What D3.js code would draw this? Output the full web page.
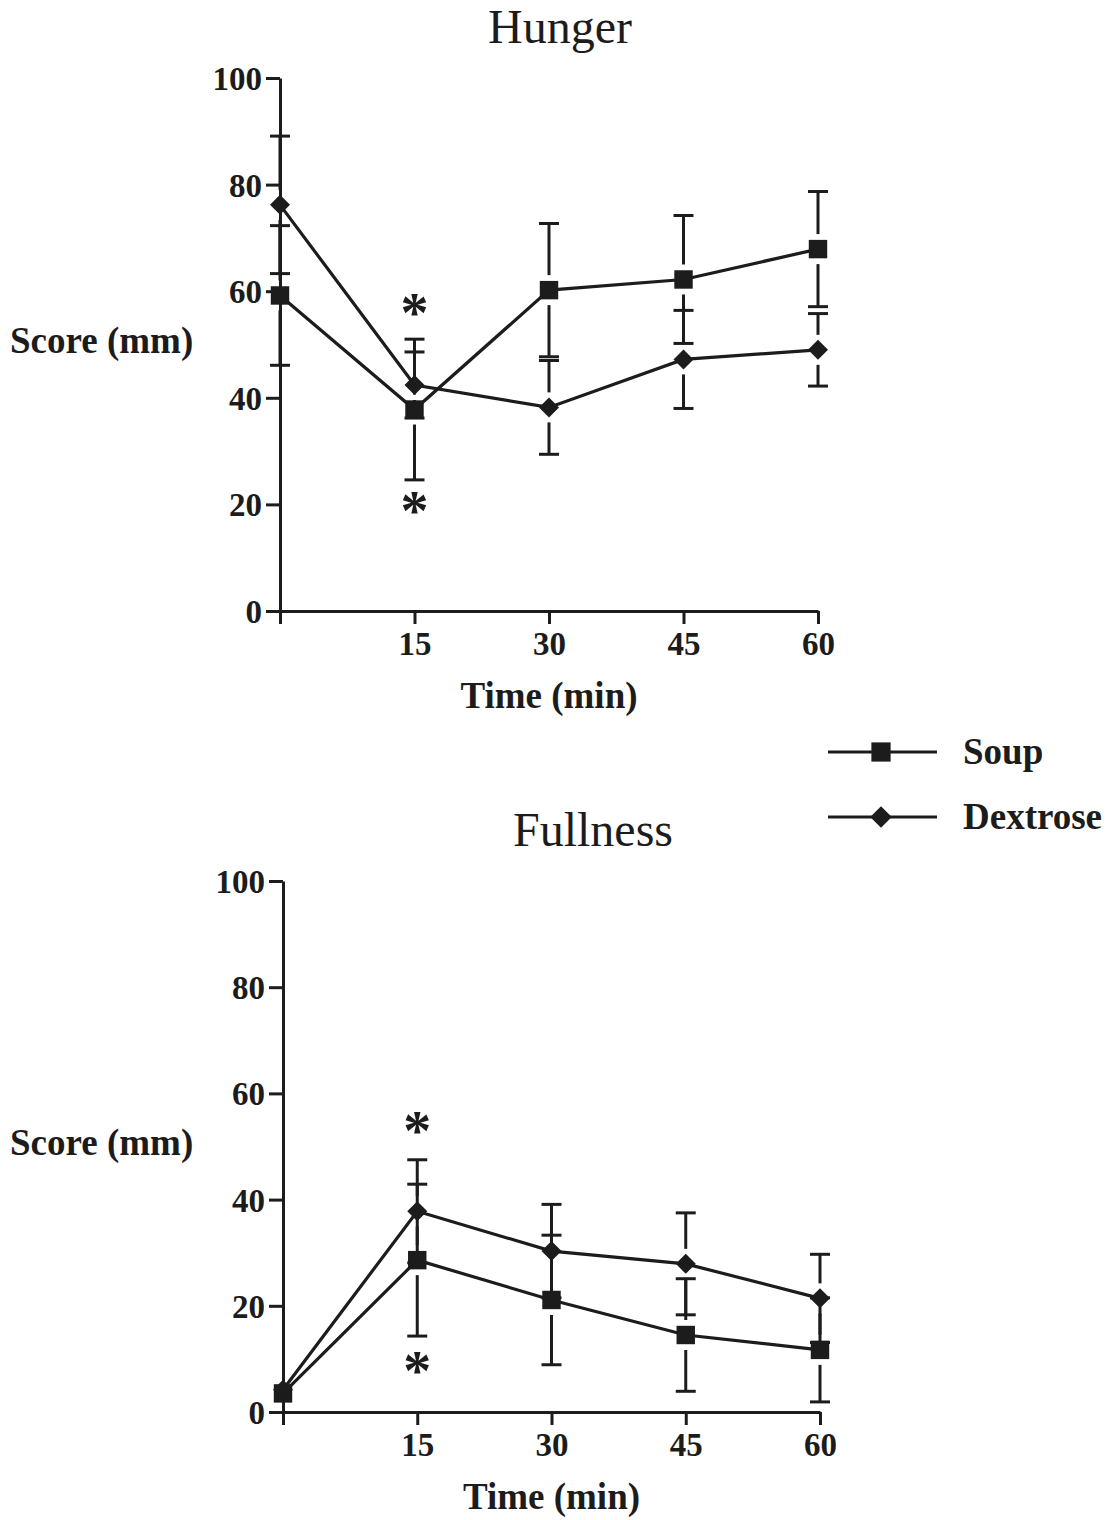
<!DOCTYPE html>
<html>
<head>
<meta charset="utf-8">
<script src="https://cdn.jsdelivr.net/npm/d3@7"></script>
<style>
  body { margin: 0; background: #fff; }
  svg text { font-family: "Liberation Serif", "Times New Roman", serif; fill: #1c1c1c; }
</style>
</head>
<body>
<div id="chart"></div>
<script>
/* -----------------    DATA     ------------------ */
const times = [0, 15, 30, 45, 60];
const xTickValues = [0, 15, 30, 45, 60];
const yTickValues = [0, 20, 40, 60, 80, 100];
const seriesNames = ['Soup', 'Dextrose'];

// Hunger (mean and SEM)
const hungerSoup = [59.2, 37.8, 60.2, 62.2, 67.9];
const hungerSoupErr = [13.1, 13.2, 12.5, 12.0, 10.8];
const hungerDex = [76.2, 42.4, 38.2, 47.2, 49.0];
const hungerDexErr = [12.9, 6.2, 8.8, 9.2, 6.8];
const hungerStars = [[15, 57.4], [15, 20.3]];

// Fullness (mean and SEM)
const fullSoup = [3.5, 28.6, 21.1, 14.5, 11.7];
const fullSoupErr = [1.2, 14.3, 12.2, 10.6, 9.8];
const fullDex = [4.2, 37.8, 30.3, 27.9, 21.4];
const fullDexErr = [1.2, 9.7, 8.8, 9.6, 8.3];
const fullStars = [[15, 54.4], [15, 9.2]];

/* -----------------    SETTINGS     ------------------ */
const ink = '#1c1c1c';
const width = 1111;
const height = 1520;

const svg = d3.select('#chart')
  .append('svg')
  .attr('width', width)
  .attr('height', height);

// square marker, and the same square turned 45 degrees for the diamond
const markers = {
  Soup: { type: d3.symbolSquare, size: 340, rotate: 0 },
  Dextrose: { type: d3.symbolSquare, size: 200, rotate: 45 }
};

function drawPanel(opts) {
  const x = d3.scaleLinear().domain([0, 60]).range([opts.left, opts.right]);
  const y = d3.scaleLinear().domain([0, 100]).range([opts.bottom, opts.top]);
  const g = svg.append('g');

  // Axes
  const xAxis = d3.axisBottom(x).tickValues(xTickValues).tickSize(13).tickSizeOuter(0)
    .tickFormat(d => d === 0 ? '' : d);
  const yAxis = d3.axisLeft(y).tickValues(yTickValues).tickSize(14).tickSizeOuter(0);

  const xg = g.append('g').attr('transform', `translate(0,${opts.bottom})`).call(xAxis);
  const yg = g.append('g').attr('transform', `translate(${opts.left},0)`).call(yAxis);

  [xg, yg].forEach(a => {
    a.select('.domain').attr('stroke', ink).attr('stroke-width', 3);
    a.selectAll('.tick line').attr('stroke', ink).attr('stroke-width', 3);
    a.selectAll('.tick text')
      .attr('fill', ink)
      .style('font-size', '33px')
      .style('font-weight', 'bold');
  });
  xg.selectAll('.tick text').attr('y', 44).attr('dy', 0);
  yg.selectAll('.tick text').attr('x', -18).attr('dy', '0.35em');

  // Title and axis labels
  g.append('text')
    .attr('x', opts.titleX).attr('y', opts.top - 35)
    .attr('text-anchor', 'middle')
    .style('font-size', '48px')
    .text(opts.title);

  g.append('text')
    .attr('x', 10).attr('y', y(50) + 8)
    .style('font-size', '37px').style('font-weight', 'bold')
    .text('Score (mm)');

  g.append('text')
    .attr('x', x(30)).attr('y', opts.bottom + 97)
    .attr('text-anchor', 'middle')
    .style('font-size', '37px').style('font-weight', 'bold')
    .text('Time (min)');

  const series = [
    { name: 'Soup', mean: opts.soup, err: opts.soupErr },
    { name: 'Dextrose', mean: opts.dex, err: opts.dexErr }
  ];

  // Error bars, with a small gap around the marker
  const gap = 15;
  series.forEach(s => {
    const eb = g.append('g');
    times.forEach((t, i) => {
      const cx = x(t);
      const cy = y(s.mean[i]);
      const up = y(s.mean[i] + s.err[i]);
      const down = y(s.mean[i] - s.err[i]);
      [up, down].forEach(end => {
        const dir = end < cy ? -1 : 1;
        if (Math.abs(end - cy) > gap) {
          eb.append('line')
            .attr('x1', cx).attr('x2', cx)
            .attr('y1', cy + dir * gap).attr('y2', end)
            .attr('stroke', ink).attr('stroke-width', 3);
        }
        if (Math.abs(end - cy) > 9) {
          eb.append('line')
            .attr('x1', cx - 10).attr('x2', cx + 10)
            .attr('y1', end).attr('y2', end)
            .attr('stroke', ink).attr('stroke-width', 3);
        }
      });
    });
  });

  // Lines and markers
  const line = d3.line().x((d, i) => x(times[i])).y(d => y(d));
  series.forEach(s => {
    const m = markers[s.name];
    g.append('path')
      .datum(s.mean)
      .attr('d', line)
      .attr('fill', 'none')
      .attr('stroke', ink)
      .attr('stroke-width', 3.2);

    g.selectAll(null)
      .data(s.mean)
      .enter()
      .append('path')
      .attr('transform', (d, i) => `translate(${x(times[i])},${y(d)}) rotate(${m.rotate})`)
      .attr('d', d3.symbol().type(m.type).size(m.size))
      .attr('fill', ink);
  });

  // Significance asterisks
  g.selectAll(null)
    .data(opts.stars)
    .enter()
    .append('text')
    .attr('x', d => x(d[0]))
    .attr('y', d => y(d[1]) + 27)
    .attr('text-anchor', 'middle')
    .style('font-size', '56px')
    .style('font-weight', 'bold')
    .text('*');
}

drawPanel({
  title: 'Hunger', titleX: 560,
  left: 280, right: 818, top: 78, bottom: 611,
  soup: hungerSoup, soupErr: hungerSoupErr,
  dex: hungerDex, dexErr: hungerDexErr,
  stars: hungerStars
});

drawPanel({
  title: 'Fullness', titleX: 593,
  left: 283, right: 820, top: 881, bottom: 1412,
  soup: fullSoup, soupErr: fullSoupErr,
  dex: fullDex, dexErr: fullDexErr,
  stars: fullStars
});

/* -----------------    LEGEND     ------------------ */
const legend = svg.append('g').attr('transform', 'translate(828,752)');

seriesNames.forEach((name, i) => {
  const m = markers[name];
  const row = legend.append('g').attr('transform', `translate(0,${i * 65})`);
  row.append('line')
    .attr('x1', 0).attr('x2', 109)
    .attr('stroke', ink).attr('stroke-width', 3);
  row.append('path')
    .attr('transform', `translate(53,0) rotate(${m.rotate})`)
    .attr('d', d3.symbol().type(m.type).size(m.size + 30))
    .attr('fill', ink);
  row.append('text')
    .attr('x', 135).attr('y', 12)
    .style('font-size', '37px').style('font-weight', 'bold')
    .text(name);
});
</script>
</body>
</html>
